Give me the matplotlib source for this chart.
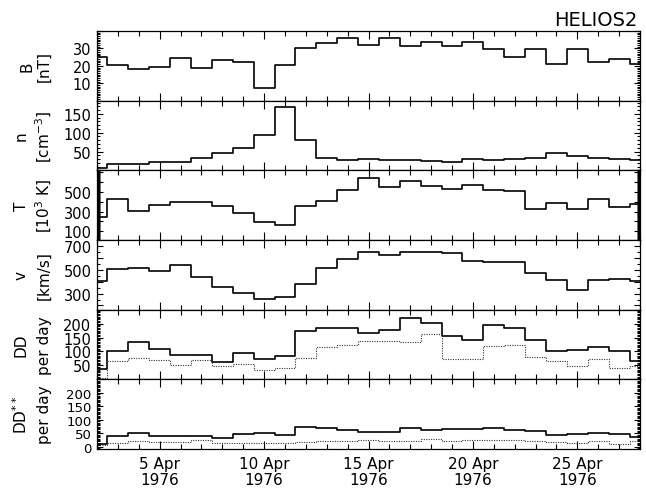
import numpy as np
import matplotlib
matplotlib.use("Agg")
import matplotlib.pyplot as plt
import matplotlib.transforms as mtrans
from matplotlib.ticker import MultipleLocator, FixedLocator, FuncFormatter

# day of April 1976 (daily bins, centred on the day)
days = np.arange(2, 29)

b_field = [25, 20.5, 18.2, 19.5, 24.3, 19, 23.1, 22.4, 7.1, 20.7, 30.4, 33.2, 36.1, 31.9,
           35.7, 31.5, 33.4, 31.5, 33.8, 29.6, 25.2, 29.4, 20.9, 29.4, 22.4, 24.1, 20.9]
density = [7, 17.6, 17.6, 22.9, 21, 32.6, 45, 58, 94, 168, 80, 31.7, 28, 29,
           27.3, 28, 25.5, 22, 30.8, 27.3, 29, 33.5, 46.7, 38.8, 32.6, 30, 26.4]
temperature = [243, 423, 310, 367, 400, 400, 360, 290, 193, 160, 360, 407, 523, 643,
               550, 607, 557, 533, 573, 517, 510, 327, 390, 323, 423, 350, 373]
speed = [404, 503, 517, 488, 544, 442, 354, 304, 252, 272, 377, 517, 588, 652,
         620, 649, 646, 637, 576, 567, 567, 471, 415, 334, 412, 424, 409]
dd_all = [38, 102, 133, 108, 88, 86, 62, 93, 73, 82, 175, 183, 184, 165,
          177, 221, 202, 154, 142, 194, 184, 142, 100, 104, 117, 102, 67]
dd_all_dot = [5, 64, 77, 70, 52, 71, 47, 56, 35, 41, 78, 116, 125, 139,
              137, 133, 164, 73, 73, 119, 125, 79, 67, 47, 73, 41, 47]
dd_sel = [10, 39, 52, 41, 39, 39, 32, 48, 50, 43, 75, 71, 61, 55,
          54, 71, 62, 66, 65, 68, 62, 58, 45, 46, 52, 48, 37]
dd_sel_dot = [5, 15, 21, 18, 17, 25, 13, 15, 15, 13, 19, 22, 23, 26,
              22, 22, 28, 22, 24, 27, 26, 22, 17, 13, 22, 12, 20]

major_days = [5, 10, 15, 20, 25]

panels = [
    # values, dotted, ylim, major step, labelled ticks, minor step, tick font, title lines
    (b_field, None, (0, 40), 10, [10, 20, 30], 1, 10.5, "B", "[nT]"),
    (density, None, (0, 185), 50, [50, 100, 150], 10, 10.5, "n", "[cm$^{-3}$]"),
    (temperature, None, (10, 720), 100, [100, 300, 500], 10, 10.5, "T", "[10$^3$ K]"),
    (speed, None, (165, 750), 100, [300, 500, 700], 50, 10.5, "v", "[km/s]"),
    (dd_all, dd_all_dot, (0, 250), 50, [50, 100, 150, 200], 5, 10.5, "DD", "per day"),
    (dd_sel, dd_sel_dot, (-8, 250), 50, [0, 50, 100, 150, 200], 5, 9.5,
     "DD$^{**}$", "per day"),
]

plt.rcParams["font.family"] = "DejaVu Sans"
W, H = 646, 489
fig = plt.figure(figsize=(W / 100, H / 100), dpi=100)
gs = fig.add_gridspec(len(panels), 1, left=97 / W, right=640 / W,
                      top=1 - 32 / H, bottom=1 - 450 / H, hspace=0)

for i, (vals, dots, ylim, maj, labelled, mnr, tfs, t1, t2) in enumerate(panels):
    ax = fig.add_subplot(gs[i])
    ax.step(days, vals, where="mid", color="black", lw=1.2)
    if dots is not None:
        ax.step(days, dots, where="mid", color="#333333", lw=0.8,
                linestyle=(0, (1, 1.2)))
    ax.set_xlim(2, 28)
    ax.set_ylim(*ylim)

    ax.xaxis.set_major_locator(FixedLocator(major_days))
    ax.xaxis.set_minor_locator(MultipleLocator(1))
    ax.yaxis.set_major_locator(MultipleLocator(maj))
    ax.yaxis.set_minor_locator(MultipleLocator(mnr))
    ax.yaxis.set_major_formatter(
        FuncFormatter(lambda v, p, lab=labelled: f"{v:.0f}" if round(v) in lab else ""))
    ax.tick_params(axis="both", which="both", direction="in",
                   top=True, right=True, width=0.8, color="black")
    ax.tick_params(axis="x", which="major", length=6)
    ax.tick_params(axis="x", which="minor", length=3.5)
    ax.tick_params(axis="y", which="major", length=4.5, labelsize=tfs, pad=4)
    ax.tick_params(axis="y", which="minor", length=2.2)
    for s in ax.spines.values():
        s.set_linewidth(0.9)

    if i < len(panels) - 1:
        ax.set_xticklabels([])
    else:
        ax.set_xticklabels([f"{d} Apr\n1976" for d in major_days],
                           fontsize=11, linespacing=1.05)
        ax.tick_params(axis="x", which="major", pad=5)

    tr = mtrans.blended_transform_factory(fig.transFigure, ax.transAxes)
    x1 = 27 / W if i == 0 else 21 / W
    ax.text(x1, 0.5, t1, transform=tr, rotation=90, ha="center", va="center",
            fontsize=11)
    ax.text(44 / W, 0.5, t2, transform=tr, rotation=90, ha="center", va="center",
            fontsize=11)

fig.text(638 / W, 1 - 20 / H, "HELIOS2", ha="right", va="center", fontsize=14)

fig.savefig("out.png", dpi=100)
